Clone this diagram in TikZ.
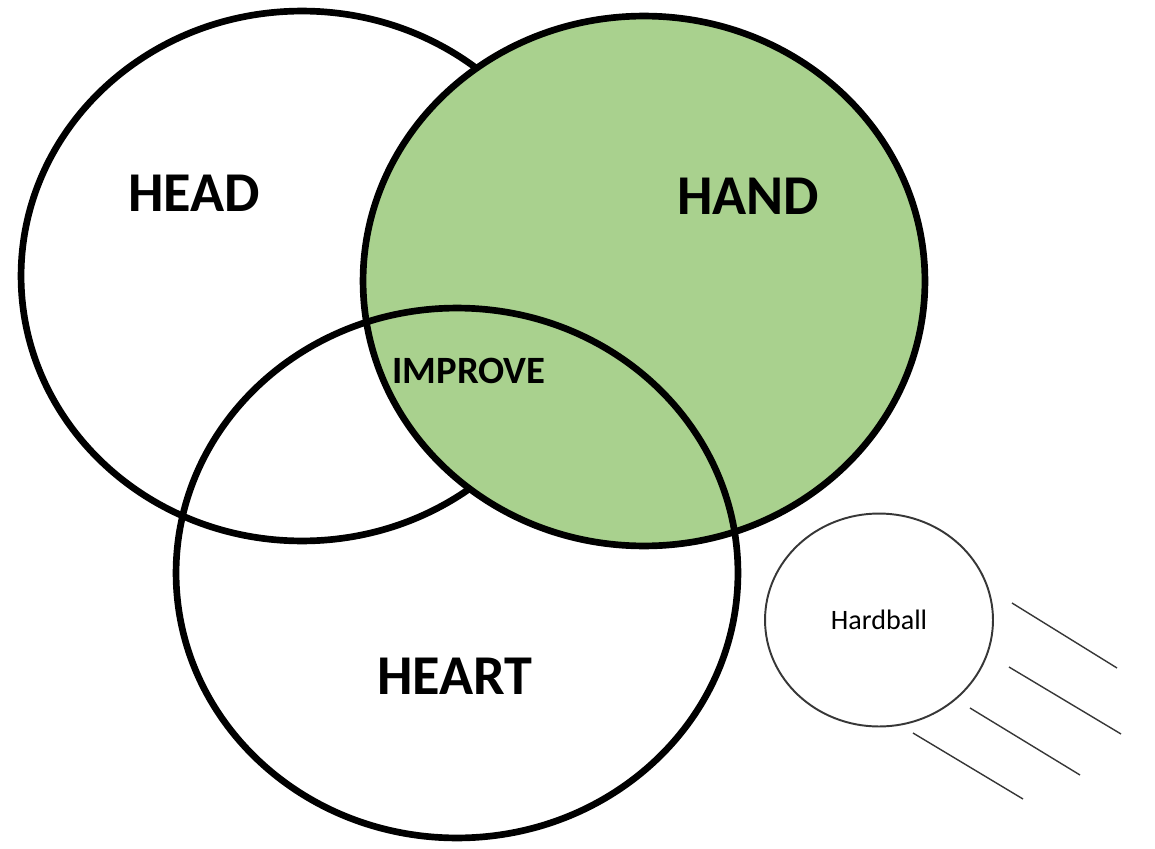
\documentclass[tikz,border=0pt]{standalone}
\usepackage{fontspec}
\setmainfont{Carlito}
\usepackage{tikz}
\usetikzlibrary{shapes.geometric}
\definecolor{vennGreen}{RGB}{169,209,142}
\definecolor{streakGray}{RGB}{55,55,55}
\tikzset{
  bigcircle/.style={
    ellipse, draw=black, line width=3.8pt,
    minimum width=11.24cm, minimum height=10.6cm,
    inner sep=0pt, fill=#1
  },
  bigcircle/.default=none,
  ballcircle/.style={
    ellipse, draw=streakGray, line width=1.1pt,
    minimum width=4.56cm, minimum height=4.26cm,
    inner sep=0pt, font=\fontsize{16}{19}\selectfont
  },
  biglabel/.style={inner sep=0pt, font=\bfseries\fontsize{32}{38}\selectfont},
  midlabel/.style={inner sep=0pt, font=\bfseries\fontsize{22}{26}\selectfont},
  streak/.style={draw=streakGray, line width=0.8pt},
}
\begin{document}
\begin{tikzpicture}[x=0.02cm, y=-0.02cm]
  \useasboundingbox (0,0) rectangle (1155,848);

  % the three circles
  \node[bigcircle]           (head)  at (302,276) {};
  \node[bigcircle=vennGreen] (hand)  at (644,281) {};
  \node[bigcircle]           (heart) at (457,573) {};

  \node[biglabel] (headlbl)  at (194,193) {HEAD};
  \node[biglabel] (handlbl)  at (748,196) {HAND};
  \node[biglabel] (heartlbl) at (455,676) {HEART};
  \node[midlabel] (improve)  at (469,371) {IMPROVE};

  % the ball and its streaks
  \node[ballcircle] (ball) at (879,620) {Hardball};
  \foreach \xa/\ya/\xb/\yb in {1012/603/1117/668, 1009/667/1121/734,
                               970/708/1080/775, 913/733/1023/799}
    \draw[streak] (\xa,\ya) -- (\xb,\yb);
\end{tikzpicture}
\end{document}
